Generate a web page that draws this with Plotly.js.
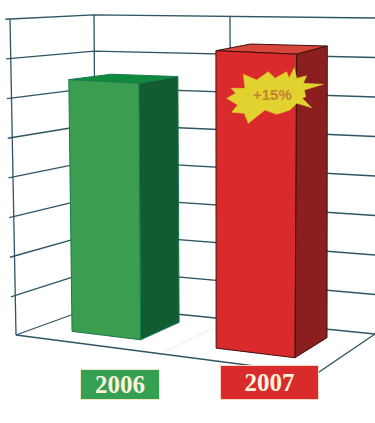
<!DOCTYPE html>
<html><head><meta charset="utf-8">
<script src="https://cdn.plot.ly/plotly-3.0.1.min.js"></script>
<style>html,body{margin:0;padding:0;background:#fff}#c{width:375px;height:423px}</style>
</head><body><div id="c"></div>
<script>
// ---- data ----
const years = ['2006', '2007'];
const values = [6.45, 7.35];            // height in grid units
const gridLevels = [1, 2, 3, 4, 5, 6, 7, 8];
const badgeText = '+15%';

// ---- 3D-look scale: floor corners, wall height and lean ----
const view = {
  A: [16, 335], B: [316, 374], C: [375, 334], D: [96, 306],
  unit: {A: 39.5, B: 42.6, C: 39.5, D: 36.4},
  lean: {A: -0.75, B: 0.5, C: 0, D: -0.25}
};
const barFoot = [
  {u0: 0.117, u1: 0.35, v0: 0.27, v1: 0.80},
  {u0: 0.602, u1: 0.87, v0: 0.29, v1: 0.81}
];
const barColors = [
  {front: '#3b9d50', side: '#115c32', top: '#0f8a3c', edge: '#1b7a4c'},
  {front: '#d92b2c', side: '#8b1f20', top: '#d8453a', edge: '#3d0f0f'}
];
const lineColor = '#2f5464';

function blend(o, u, v) {
  return o.A * (1 - u) * (1 - v) + o.B * u * (1 - v) + o.C * u * v + o.D * (1 - u) * v;
}
function project(u, v, h) {
  const g = i => ({A: view.A[i], B: view.B[i], C: view.C[i], D: view.D[i]});
  return [blend(g(0), u, v) + h * blend(view.lean, u, v),
          blend(g(1), u, v) - h * blend(view.unit, u, v)];
}
const traces = [];
function line(pts, color, width) {
  const p = pts.map(q => project(q[0], q[1], q[2]));
  traces.push({type: 'scatter', mode: 'lines', x: p.map(a => a[0]), y: p.map(a => a[1]),
    line: {color: color || lineColor, width: width || 1.3}, hoverinfo: 'skip', showlegend: false});
}
function face(pts, fill, edge) {
  const p = pts.map(q => project(q[0], q[1], q[2]));
  traces.push({type: 'scatter', mode: 'lines', fill: 'toself', fillcolor: fill,
    x: p.map(a => a[0]).concat(p[0][0]), y: p.map(a => a[1]).concat(p[0][1]),
    line: {color: edge, width: 1}, hoverinfo: 'skip', showlegend: false});
}

// faint floor line
line([[0.484, 0.05, 0], [0.484, 0.75, 0]], '#e3eff5', 1);
// walls
gridLevels.forEach(l => line([[0, -0.055, l], [0, 1, l], [1, 1, l]]));
line([[0, 0, 0], [0, 0, 8]]);
line([[0, 1, 0], [0, 1, 8]]);
line([[0.484, 1, 0], [0.484, 1, 8]]);
// floor
line([[0, 1, 0], [1, 1, 0]]);
line([[0, 0, 0], [0, 1, 0]]);
line([[0, 0, 0], [1, 0, 0], [1, 1, 0]]);

// bars
values.forEach((h, i) => {
  const f = barFoot[i], c = barColors[i];
  face([[f.u0, f.v0, h], [f.u1, f.v0, h], [f.u1, f.v1, h], [f.u0, f.v1, h]], c.top, c.edge);
  face([[f.u1, f.v0, 0], [f.u1, f.v1, 0], [f.u1, f.v1, h], [f.u1, f.v0, h]], c.side, c.edge);
  face([[f.u0, f.v0, 0], [f.u1, f.v0, 0], [f.u1, f.v0, h], [f.u0, f.v0, h]], c.front, c.edge);
});

// star badge outline, as offsets from its centre
const starCentre = [270, 97];
const starDx = [24.3, 26.7, 36.7, 33.3, 53.3, 34.3, 35.7, 32.3, 41.7, 26.7, 20, 6.7, -5, -21.7, -25.7, -38.3, -32.3, -43.3, -34.3, -39, -25, -26.7, -13.3, -1.7, 5, 16.7, 19];
const starDy = [-29.3, -18.7, -21.3, -13.7, -12.7, -7, -0.3, 1.3, 10.7, 6.3, 13, 17.3, 13, 26.3, 16.3, 15.3, 8, 1.3, -3.7, -8.7, -8.7, -22.7, -17, -25.3, -18.7, -25.3, -18.7];
traces.push({type: 'scatter', mode: 'lines', fill: 'toself', fillcolor: '#e1d22f',
  x: starDx.concat(starDx[0]).map(d => starCentre[0] + d),
  y: starDy.concat(starDy[0]).map(d => starCentre[1] + d),
  line: {color: '#e1d22f', width: 0.5}, hoverinfo: 'skip', showlegend: false});

const labelStyle = [
  {x: 120, y: 384.5, w: 78, h: 29, bg: '#35a052', border: '#f3e9c8'},
  {x: 269.5, y: 382.5, w: 97, h: 33, bg: '#d92b2c', border: '#f8d8c8'}
];
const annotations = years.map((t, i) => ({
  x: labelStyle[i].x, y: labelStyle[i].y, xref: 'x', yref: 'y', text: t, showarrow: false,
  width: labelStyle[i].w, height: labelStyle[i].h, bgcolor: labelStyle[i].bg,
  bordercolor: labelStyle[i].border, borderwidth: 1, borderpad: 0,
  xanchor: 'center', yanchor: 'middle',
  font: {family: '"Liberation Serif", serif', size: 25, color: '#fdf3dc', weight: 700}
}));
annotations.push({x: 272, y: 94, xref: 'x', yref: 'y', text: badgeText, showarrow: false,
  font: {family: '"Liberation Sans", Arial, sans-serif', size: 15, color: '#c4812f', weight: 700}});

Plotly.newPlot('c', traces, {
  width: 375, height: 423, margin: {l: 0, r: 0, t: 0, b: 0},
  paper_bgcolor: '#ffffff', plot_bgcolor: '#ffffff', showlegend: false, hovermode: false,
  xaxis: {range: [0, 375], visible: false, fixedrange: true},
  yaxis: {range: [423, 0], visible: false, fixedrange: true},
  annotations: annotations
}, {displayModeBar: false, staticPlot: true});
</script></body></html>
